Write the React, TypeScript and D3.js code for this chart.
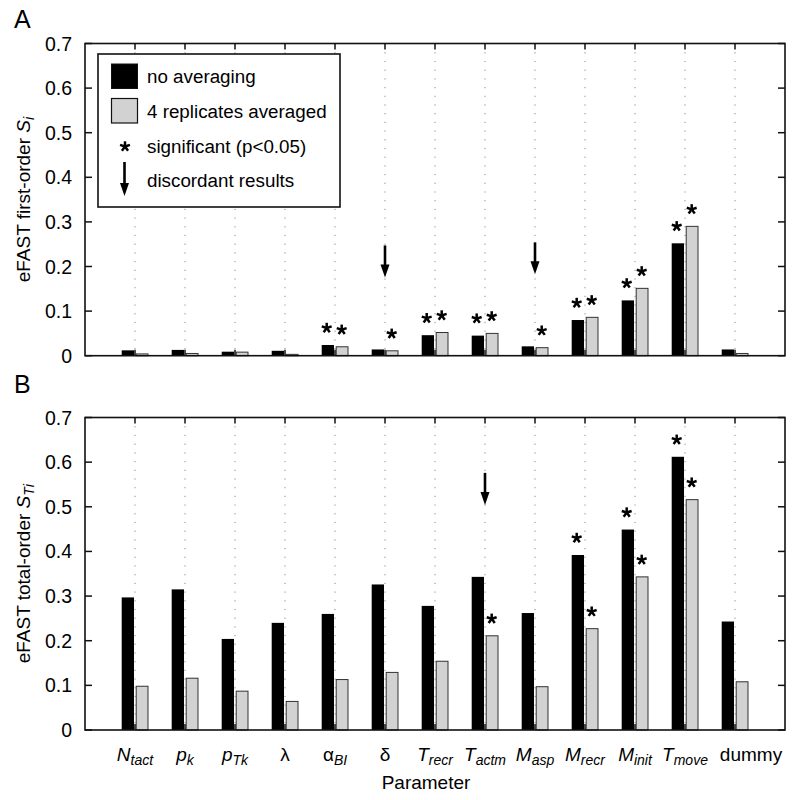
import React from "react";
import * as d3 from "d3";

const paramMain = ["N", "p", "p", "λ", "α", "δ", "T", "T", "M", "M", "M", "T", "dummy"];
const paramSub = ["tact", "k", "Tk", "", "BI", "", "recr", "actm", "asp", "recr", "init", "move", ""];
const paramItalic = [true, true, true, false, false, false, true, true, true, true, true, true, false];

const blackA = [0.012, 0.013, 0.009, 0.011, 0.024, 0.014, 0.046, 0.045, 0.021, 0.080, 0.124, 0.252, 0.014];
const grayA = [0.004, 0.005, 0.008, 0.003, 0.020, 0.011, 0.052, 0.050, 0.018, 0.086, 0.151, 0.290, 0.005];
const blackB = [0.297, 0.315, 0.204, 0.240, 0.260, 0.326, 0.278, 0.343, 0.262, 0.392, 0.449, 0.612, 0.243];
const grayB = [0.098, 0.116, 0.087, 0.064, 0.113, 0.129, 0.154, 0.211, 0.097, 0.227, 0.343, 0.516, 0.108];

const sigBlackA = [4, 6, 7, 9, 10, 11];
const sigGrayA = [4, 5, 6, 7, 8, 9, 10, 11];
const sigBlackB = [9, 10, 11];
const sigGrayB = [7, 9, 10, 11];
const discordantA = [5, 8];
const discordantB = [7];

const yTicks = [0, 0.1, 0.2, 0.3, 0.4, 0.5, 0.6, 0.7];
const legendLabels = ["no averaging", "4 replicates averaged", "significant (p<0.05)", "discordant results"];

const FONT = "'Liberation Sans', Arial, Helvetica, sans-serif";
const GRAY = "#d2d2d2";

const x = d3.scaleLinear().domain([0, 14]).range([85, 785]);

function Star({ cx, cy }: { cx: number; cy: number }) {
  const r = 5.2;
  const arms = d3.range(5).map((k) => (-90 + k * 72) * (Math.PI / 180));
  return (
    <g>
      {arms.map((a, i) => (
        <line key={i} x1={cx} y1={cy} x2={cx + r * Math.cos(a)} y2={cy + r * Math.sin(a)} stroke="#000" strokeWidth={2.5} strokeLinecap="butt" />
      ))}
    </g>
  );
}

function Arrow({ cx, y0, y1 }: { cx: number; y0: number; y1: number }) {
  const headH = 13;
  const headW = 4.5;
  return (
    <g>
      <line x1={cx} y1={y0} x2={cx} y2={y1 - headH + 2} stroke="#000" strokeWidth={2.6} />
      <path d={`M${cx - headW},${y1 - headH} L${cx + headW},${y1 - headH} L${cx},${y1} Z`} fill="#000" />
    </g>
  );
}

function Panel({
  y,
  black,
  gray,
  sigBlack,
  sigGray,
  discordant,
  letter,
  letterY,
  labelSub,
}: {
  y: d3.ScaleLinear<number, number>;
  black: number[];
  gray: number[];
  sigBlack: number[];
  sigGray: number[];
  discordant: number[];
  letter: string;
  letterY: number;
  labelSub: string;
}) {
  const [y0, y1] = y.range();
  const cats = d3.range(1, 14);
  return (
    <g>
      <text x={14} y={letterY} fontFamily={FONT} fontSize={25}>{letter}</text>
      {cats.map((c) => (
        <line key={"g" + c} x1={x(c)} x2={x(c)} y1={y1} y2={y0} stroke="#8a8a8a" strokeWidth={1} strokeDasharray="1.2 7.5" />
      ))}
      {cats.map((c, i) => (
        <g key={"b" + c}>
          <rect x={x(c) - 13.3} width={12.3} y={y(black[i])} height={y0 - y(black[i])} fill="#000" />
          <rect x={x(c) + 1.2} width={11.8} y={y(gray[i])} height={y0 - y(gray[i])} fill={GRAY} stroke="#333" strokeWidth={1} />
        </g>
      ))}
      <rect x={x(0)} y={y1} width={x(14) - x(0)} height={y0 - y1} fill="none" stroke="#111" strokeWidth={1.6} />
      {yTicks.map((t) => (
        <g key={"t" + t}>
          <line x1={x(0)} x2={x(0) + 7} y1={y(t)} y2={y(t)} stroke="#111" strokeWidth={1.5} />
          <line x1={x(14)} x2={x(14) - 7} y1={y(t)} y2={y(t)} stroke="#111" strokeWidth={1.5} />
          <text x={72} y={y(t)} dy="0.36em" textAnchor="end" fontFamily={FONT} fontSize={19.5}>{t === 0 ? "0" : d3.format(".1f")(t)}</text>
        </g>
      ))}
      {cats.map((c) => (
        <g key={"x" + c}>
          <line x1={x(c)} x2={x(c)} y1={y1} y2={y1 + 6} stroke="#111" strokeWidth={1.5} />
          <line x1={x(c)} x2={x(c)} y1={y0} y2={y0 - 6} stroke="#111" strokeWidth={1.5} />
        </g>
      ))}
      {sigBlack.map((i) => (
        <Star key={"sb" + i} cx={x(i + 1) - 8.3} cy={y(black[i]) - 17} />
      ))}
      {sigGray.map((i) => (
        <Star key={"sg" + i} cx={x(i + 1) + 6.7} cy={y(gray[i]) - 17} />
      ))}
      {discordant.map((i) => {
        const top = Math.min(y(black[i]), y(gray[i]));
        return <Arrow key={"a" + i} cx={x(i + 1)} y0={top - 104} y1={top - 72} />;
      })}
      <text transform={`translate(30,${(y0 + y1) / 2}) rotate(-90)`} textAnchor="middle" fontFamily={FONT} fontSize={19}>
        eFAST {letter === "A" ? "first-order" : "total-order"} <tspan fontStyle="italic">S</tspan>
        <tspan fontStyle="italic" fontSize={14} dy={4}>{labelSub}</tspan>
      </text>
    </g>
  );
}

export default function App() {
  const yA = d3.scaleLinear().domain([0, 0.7]).range([355.7, 43.5]);
  const yB = d3.scaleLinear().domain([0, 0.7]).range([730, 417.5]);
  const cats = d3.range(1, 14);
  return (
    <div style={{ position: "absolute", left: 0, top: 0 }}>
      <svg width={800} height={800} style={{ display: "block", background: "#fff" }}>
        <rect width={800} height={800} fill="#fff" />
        <Panel y={yA} black={blackA} gray={grayA} sigBlack={sigBlackA} sigGray={sigGrayA} discordant={discordantA} letter="A" letterY={28} labelSub="i" />
        <Panel y={yB} black={blackB} gray={grayB} sigBlack={sigBlackB} sigGray={sigGrayB} discordant={discordantB} letter="B" letterY={393} labelSub="Ti" />
        <g>
          <rect x={98} y={54} width={242} height={153} fill="#fff" stroke="#111" strokeWidth={1.6} />
          <rect x={111.5} y={64} width={26} height={24.5} fill="#000" stroke="#111" strokeWidth={1} />
          <rect x={111.5} y={98.5} width={26} height={24.5} fill={GRAY} stroke="#111" strokeWidth={1.2} />
          <Star cx={125} cy={146.5} />
          <Arrow cx={124.5} y0={162} y1={196} />
          {legendLabels.map((l, i) => (
            <text key={l} x={147} y={83.3 + i * 34.6} fontFamily={FONT} fontSize={18.8}>{l}</text>
          ))}
        </g>
        {cats.map((c, i) => (
          <text key={"xl" + c} x={x(c) + (paramMain[i] === "dummy" ? 16 : 0)} y={761} textAnchor="middle" fontFamily={FONT} fontSize={19}>
            <tspan fontStyle={paramItalic[i] ? "italic" : "normal"}>{paramMain[i]}</tspan>
            {paramSub[i] ? (
              <tspan fontStyle="italic" fontSize={14} dy={4}>{paramSub[i]}</tspan>
            ) : null}
          </text>
        ))}
        <text x={426} y={789} textAnchor="middle" fontFamily={FONT} fontSize={19}>Parameter</text>
      </svg>
    </div>
  );
}
